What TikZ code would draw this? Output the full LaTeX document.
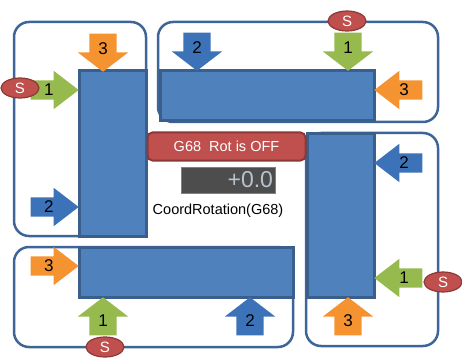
\documentclass[tikz,border=0pt]{standalone}
\usepackage{fontspec}
\setmainfont{Liberation Sans}
\usetikzlibrary{shapes.arrows,shapes.geometric,calc}

\definecolor{barblue}{HTML}{4F81BD}
\definecolor{barline}{HTML}{3A5F8C}
\definecolor{frameline}{HTML}{3E6597}
\definecolor{padorange}{HTML}{F59331}
\definecolor{padgreen}{HTML}{97BA4F}
\definecolor{padblue}{HTML}{3C72B8}
\definecolor{sred}{HTML}{C0504D}
\definecolor{sredline}{HTML}{8C3836}
\definecolor{dispgray}{HTML}{4D4D4D}
\definecolor{dispnum}{HTML}{B9C3CE}

\tikzset{
  frame/.style={draw=frameline, line width=2.5pt, rounded corners=15pt},
  bar/.style={draw=barline, fill=barblue, line width=3pt},
  harrow/.style={single arrow, anchor=tip, inner xsep=0pt, inner ysep=9.5pt, minimum height=48pt,
    minimum width=38pt, single arrow head extend=9.5pt, single arrow tip angle=75},
  varrow/.style={single arrow, anchor=tip, inner xsep=0pt, inner ysep=13.5pt, minimum height=38pt,
    minimum width=50pt, single arrow head extend=11.5pt, single arrow tip angle=105},
  num/.style={inner sep=0pt, font=\fontsize{17}{17}\selectfont},
  sign/.style={ellipse, draw=sredline, fill=sred, line width=1.2pt, minimum width=38pt,
    minimum height=20pt, inner sep=0pt, text=white, font=\fontsize{15}{15}\selectfont},
}

\begin{document}
\begin{tikzpicture}[x=1pt, y=-1pt]
    \useasboundingbox (0,0) rectangle (462,358);

    % frames
    \draw [frame] (14,22) rectangle (146,236);
    \draw [frame] (158,22) rectangle (438,122);
    \draw [frame] (306,133) rectangle (438,346);
    \draw [frame] (14,247) rectangle (293,347);

    % bars
    \draw [bar] (79,71) rectangle (146,236);
    \draw [bar] (160,71) rectangle (374,121);
    \draw [bar] (307,134) rectangle (374,297);
    \draw [bar] (79,247) rectangle (293,297);

    % top left
    \node [varrow, fill=padorange, rotate=-90] (a_tl3) at (103,72) {};
    \node [harrow, fill=padgreen] (a_tl1) at (79,90) {};
    \node [harrow, fill=padblue] (a_tl2) at (79,207) {};
    \node [num] (n_tl3) at ($(a_tl3.tail)!0.38!(a_tl3.tip)$) {3};
    \node [num] (n_tl1) at ($(a_tl1.tail)!0.38!(a_tl1.tip)$) {1};
    \node [num] (n_tl2) at ($(a_tl2.tail)!0.38!(a_tl2.tip)$) {2};
    \node [sign] (s_tl) at (20,88) {S};

    % top right
    \node [varrow, fill=padblue, rotate=-90] (a_tr2) at (197,71) {};
    \node [varrow, fill=padgreen, rotate=-90] (a_tr1) at (348,71) {};
    \node [harrow, fill=padorange, rotate=180] (a_tr3) at (374,90) {};
    \node [num] (n_tr2) at ($(a_tr2.tail)!0.38!(a_tr2.tip)$) {2};
    \node [num] (n_tr1) at ($(a_tr1.tail)!0.38!(a_tr1.tip)$) {1};
    \node [num] (n_tr3) at ($(a_tr3.tail)!0.38!(a_tr3.tip)$) {3};
    \node [sign] (s_tr) at (347,21) {S};

    % right
    \node [harrow, fill=padblue, rotate=180] (a_r2) at (374,163) {};
    \node [harrow, fill=padgreen, rotate=180] (a_r1) at (374,278) {};
    \node [varrow, fill=padorange, rotate=90] (a_r3) at (348,297) {};
    \node [num] (n_r2) at ($(a_r2.tail)!0.38!(a_r2.tip)$) {2};
    \node [num] (n_r1) at ($(a_r1.tail)!0.38!(a_r1.tip)$) {1};
    \node [num] (n_r3) at ($(a_r3.tail)!0.38!(a_r3.tip)$) {3};
    \node [sign] (s_r) at (443,282) {S};

    % bottom
    \node [harrow, fill=padorange] (a_b3) at (79,266) {};
    \node [varrow, fill=padgreen, rotate=90] (a_b1) at (103,297) {};
    \node [varrow, fill=padblue, rotate=90] (a_b2) at (250,297) {};
    \node [num] (n_b3) at ($(a_b3.tail)!0.38!(a_b3.tip)$) {3};
    \node [num] (n_b1) at ($(a_b1.tail)!0.38!(a_b1.tip)$) {1};
    \node [num] (n_b2) at ($(a_b2.tail)!0.38!(a_b2.tip)$) {2};
    \node [sign] (s_b) at (105,347) {S};

    % rotation status
    \node [draw=sredline, fill=sred, line width=2pt, rounded corners=5pt, minimum width=158pt,
        minimum height=28pt, text=white, font=\fontsize{14.5}{15}\selectfont] (rotbtn) at (226.5,146.5) {G68\ \ Rot is OFF};
    \node [draw=gray, fill=dispgray, line width=0.8pt, inner xsep=2pt, inner ysep=0pt, text width=90pt,
        align=right, minimum height=26pt, text=dispnum, font=\fontsize{23}{23}\selectfont] (rotval) at (228,180) {+0.0};
    \node [font=\fontsize{14.5}{15}\selectfont] (rotlbl) at (218,211) {CoordRotation(G68)};
\end{tikzpicture}
\end{document}
